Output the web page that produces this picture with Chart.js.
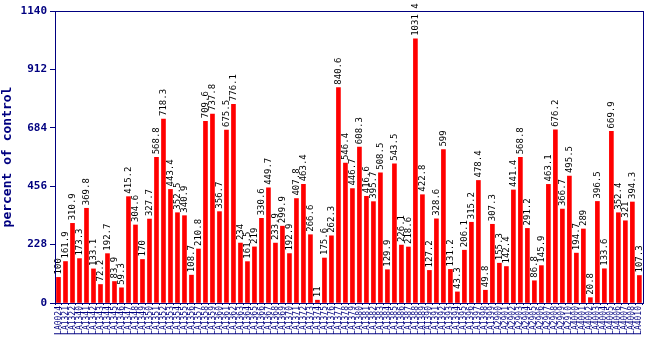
<!DOCTYPE html>
<html>
<head>
<meta charset="utf-8">
<script src="https://cdn.jsdelivr.net/npm/chart.js@4/dist/chart.umd.min.js"></script>
<style>
html,body{margin:0;padding:0;background:#fff;}
#wrap{width:650px;height:350px;}
</style>
</head>
<body>
<div id="wrap"><canvas id="c" width="650" height="350"></canvas></div>
<script>
const categories = [
 "LA0024","LA1321","LA1322","LA1340","LA1341","LA1342","LA1343","LA1344","LA1345","LA1346",
 "LA1347","LA1348","LA1349","LA1350","LA1351","LA1352","LA1353","LA1354","LA1355","LA1356",
 "LA1357","LA1358","LA1359","LA1360","LA1361","LA1362","LA1363","LA1364","LA1365","LA1366",
 "LA1367","LA1368","LA1369","LA1370","LA1371","LA1372","LA1373","LA1374","LA1375","LA1376",
 "LA1377","LA1378","LA1379","LA1380","LA1381","LA1382","LA1383","LA1384","LA1385","LA1386",
 "LA1387","LA1388","LA1389","LA1390","LA1391","LA1392","LA1393","LA1394","LA1395","LA1396",
 "LA1397","LA1398","LA1399","LA2900","LA2901","LA2902","LA2903","LA2904","LA2905","LA2906",
 "LA2907","LA2908","LA2909","LA2910","LA4000","LA4001","LA4002","LA4003","LA4004","LA4005",
 "LA4006","LA4007","LA4008","LA4010"
];
const values = [
 100,161.9,310.9,173.3,369.8,133.1,72.2,192.7,83.9,59.3,
 415.2,304.6,170,327.7,568.8,718.3,443.4,352.5,340.9,108.7,
 210.8,709.6,737.8,356.7,675.5,776.1,234,161.5,219,330.6,
 449.7,233.9,299.9,192.9,407.8,463.4,266.6,11,175.6,262.3,
 840.6,546.4,446.7,608.3,416.6,395.7,508.5,129.9,543.5,226.1,
 218.6,1031.4,422.8,127.2,328.6,599,131.2,43.3,206.1,315.2,
 478.4,49.8,307.3,155.3,142.4,441.4,568.8,291.2,86.8,145.9,
 463.1,676.2,366.7,495.5,194.7,289,20.8,396.5,133.6,669.9,
 352.4,321,394.3,107.3
];
const yTicks = [0,228,456,684,912,1140];

const NAVY = '#000080';

const valueLabels = {
  id:'valueLabels',
  afterDatasetsDraw(chart){
    const ctx = chart.ctx;
    const meta = chart.getDatasetMeta(0);
    ctx.save();
    ctx.font = '9px "DejaVu Sans Mono", monospace';
    ctx.fillStyle = '#000000';
    ctx.textAlign = 'left';
    ctx.textBaseline = 'middle';
    meta.data.forEach((bar,i)=>{
      ctx.save();
      ctx.translate(bar.x, bar.y - 3);
      ctx.rotate(-Math.PI/2);
      ctx.fillText(String(values[i]), 0, 0);
      ctx.restore();
    });
    ctx.restore();
  }
};
const frame = {
  id:'frame',
  afterDraw(chart){
    const a = chart.chartArea, ctx = chart.ctx;
    ctx.save();
    ctx.strokeStyle = NAVY;
    ctx.lineWidth = 1;
    ctx.strokeRect(Math.round(a.left)+0.5, Math.round(a.top)+0.5, Math.round(a.right-a.left), Math.round(a.bottom-a.top));
    ctx.restore();
  }
};

new Chart(document.getElementById('c'), {
  type:'bar',
  data:{
    labels: categories,
    datasets:[{data: values, backgroundColor:'#ff0000', borderWidth:0, barThickness:4}]
  },
  options:{
    responsive:false,
    animation:false,
    layout:{padding:{left:0,top:11,right:4,bottom:0}},
    plugins:{legend:{display:false},tooltip:{enabled:false}},
    scales:{
      x:{
        grid:{display:true,drawOnChartArea:false,drawTicks:true,tickLength:2,color:NAVY},
        border:{display:true,color:NAVY},
        ticks:{autoSkip:false,minRotation:90,maxRotation:90,padding:1,color:NAVY,
          font:{family:'"DejaVu Sans Mono", monospace',size:8}},
        afterFit(s){ s.height = 47; }
      },
      y:{
        min:0,max:1140,
        afterBuildTicks(s){ s.ticks = yTicks.map(v=>({value:v})); },
        grid:{display:true,drawOnChartArea:false,drawTicks:true,tickLength:5,color:NAVY},
        border:{display:true,color:NAVY},
        ticks:{color:NAVY,padding:3,callback:(v)=>String(v),
          font:{family:'"DejaVu Sans Mono", monospace',size:11,weight:'bold'}},
        title:{display:true,text:'percent of control',color:NAVY,padding:{top:0,bottom:2},
          font:{family:'"DejaVu Sans Mono", monospace',size:13,weight:'bold'}},
        afterFit(s){ s.width = 55; }
      }
    }
  },
  plugins:[valueLabels, frame]
});
</script>
</body>
</html>
